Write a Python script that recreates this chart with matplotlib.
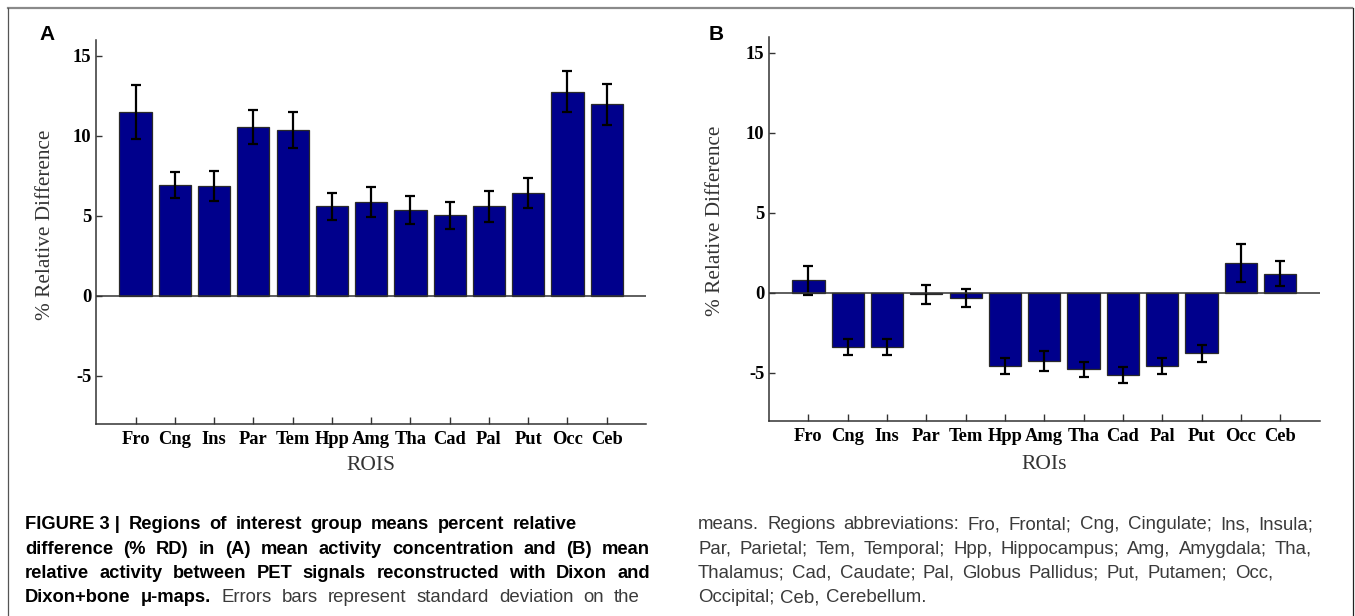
import matplotlib
matplotlib.use("Agg")
import matplotlib.pyplot as plt
from matplotlib.lines import Line2D
import numpy as np

# ---------------- data ----------------
rois = ["Fro", "Cng", "Ins", "Par", "Tem", "Hpp", "Amg", "Tha", "Cad", "Pal", "Put", "Occ", "Ceb"]
mean_a = [11.5, 6.92, 6.87, 10.57, 10.37, 5.6, 5.87, 5.38, 5.04, 5.6, 6.45, 12.77, 11.98]
sd_a = [1.7, 0.82, 0.95, 1.07, 1.13, 0.86, 0.92, 0.86, 0.86, 0.95, 0.93, 1.3, 1.27]
mean_b = [0.78, -3.4, -3.4, -0.1, -0.31, -4.58, -4.29, -4.77, -5.15, -4.58, -3.79, 1.88, 1.19]
sd_b = [0.9, 0.52, 0.5, 0.6, 0.57, 0.53, 0.62, 0.47, 0.52, 0.53, 0.55, 1.19, 0.79]
yticks = [-5, 0, 5, 10, 15]
ylim = (-8, 16)

caption_left = [
    [("FIGURE 3 |", "bold"), ("Regions", "bold"), ("of", "bold"), ("interest", "bold"), ("group", "bold"),
     ("means", "bold"), ("percent", "bold"), ("relative", "bold")],
    [("difference", "bold"), ("(%", "bold"), ("RD)", "bold"), ("in", "bold"), ("(A)", "bold"), ("mean", "bold"),
     ("activity", "bold"), ("concentration", "bold"), ("and", "bold"), ("(B)", "bold"), ("mean", "bold")],
    [("relative", "bold"), ("activity", "bold"), ("between", "bold"), ("PET", "bold"), ("signals", "bold"),
     ("reconstructed", "bold"), ("with", "bold"), ("Dixon", "bold"), ("and", "bold")],
    [("Dixon+bone", "bold"), ("\u03bc-maps.", "bold"), ("Errors", "normal"), ("bars", "normal"),
     ("represent", "normal"), ("standard", "normal"), ("deviation", "normal"), ("on", "normal"), ("the", "normal")],
]
caption_right = [
    "means. Regions abbreviations: Fro, Frontal; Cng, Cingulate; Ins, Insula;",
    "Par, Parietal; Tem, Temporal; Hpp, Hippocampus; Amg, Amygdala; Tha,",
    "Thalamus; Cad, Caudate; Pal, Globus Pallidus; Put, Putamen; Occ,",
    "Occipital; Ceb, Cerebellum.",
]

W, H = 1355, 616
fig = plt.figure(figsize=(W / 100, H / 100), dpi=100)

serif = "Liberation Serif"
bar_color = "#00008c"
axis_color = "#333333"


def make_panel(rect, means, sds, xlabel, label_x, label_y, xlab_y):
    ax = fig.add_axes(rect)
    x = np.arange(1, len(rois) + 1)
    ax.bar(x, means, width=0.82, color=bar_color, edgecolor="#2a2a2a", linewidth=0.9, zorder=2)
    ax.errorbar(x, means, yerr=sds, fmt="none", ecolor="black", elinewidth=1.6,
                capsize=3.6, capthick=1.6, zorder=3)
    ax.axhline(0, color=axis_color, lw=1.1, zorder=4)
    ax.set_xlim(0, 14)
    ax.set_ylim(*ylim)
    ax.set_xticks(x)
    ax.set_xticklabels(rois, fontfamily=serif, fontweight="bold", fontsize=13.3)
    ax.set_yticks(yticks)
    ax.set_yticklabels([str(v) for v in yticks], fontfamily=serif, fontweight="bold", fontsize=13.3)
    ax.tick_params(axis="x", direction="in", length=5, width=1.0, color=axis_color, pad=5)
    ax.tick_params(axis="y", direction="in", length=4, width=1.0, color=axis_color, pad=3.5)
    for s in ("top", "right"):
        ax.spines[s].set_visible(False)
    for s in ("left", "bottom"):
        ax.spines[s].set_color(axis_color)
        ax.spines[s].set_linewidth(1.1)
    ax.set_ylabel("% Relative Difference", fontfamily=serif, fontsize=15.3, color="#333333", va="center")
    ax.yaxis.set_label_coords(label_x, label_y)
    ax.set_xlabel(xlabel, fontfamily=serif, fontsize=15.5, color="#333333", va="center")
    ax.xaxis.set_label_coords(0.5, xlab_y)
    return ax


axA = make_panel([96.3 / W, 1 - 424 / H, 549.7 / W, 384 / H], mean_a, sd_a, "ROIS", -0.093, 0.518, -0.107)
axB = make_panel([769.1 / W, 1 - 420.7 / H, 550.4 / W, 384 / H], mean_b, sd_b, "ROIs", -0.098, 0.52, -0.115)

fig.text(47.5 / W, 1 - 34 / H, "A", fontfamily="Liberation Sans", fontweight="bold", fontsize=15,
         ha="center", va="center")
fig.text(716 / W, 1 - 34 / H, "B", fontfamily="Liberation Sans", fontweight="bold", fontsize=15,
         ha="center", va="center")

# frame around figure
fig.add_artist(Line2D([8 / W, 1352 / W], [1 - 8 / H, 1 - 8 / H], transform=fig.transFigure,
                      color="#8a8a8a", lw=1.6))
fig.add_artist(Line2D([8 / W, 8 / W], [1 - 8 / H, 0], transform=fig.transFigure, color="#555555", lw=0.9))
fig.add_artist(Line2D([1352.5 / W, 1352.5 / W], [1 - 8 / H, 0], transform=fig.transFigure,
                      color="#222222", lw=0.9))

# caption with justified lines
renderer = fig.canvas.get_renderer()
sans = "Liberation Sans"
text_colors = {"bold": "black", "normal": "#3a3a3a"}
text_sizes = {"bold": 13.2, "normal": 13.4}


def place_line(tokens, x0, x1, y_base, justify=True, space_factor=1.15):
    texts = []
    widths = []
    for word, weight in tokens:
        t = fig.text(0, 1 - y_base / H, word, fontfamily=sans, fontweight=weight, fontsize=text_sizes[weight],
                     color=text_colors[weight], ha="left", va="baseline")
        texts.append(t)
        widths.append(t.get_window_extent(renderer).width)
    total = sum(widths)
    if justify and len(tokens) > 1:
        gap = (x1 - x0 - total) / (len(tokens) - 1)
    else:
        gap = 0.278 * text_sizes["normal"] * 100 / 72 * space_factor
    x = x0
    for t, w in zip(texts, widths):
        t.set_x(x / W)
        x += w + gap


baselines = [529, 553.5, 578, 602.5]
left_ends = [577, 650, 650, 640]
for toks, yb, xe in zip(caption_left, baselines, left_ends):
    place_line(toks, 25, xe, yb, justify=True)

right_ends = [1313, 1312, 1273, None]
for line, yb, xe in zip(caption_right, baselines, right_ends):
    toks = [(w, "normal") for w in line.split(" ")]
    if xe is None:
        place_line(toks, 698, 0, yb, justify=False)
    else:
        place_line(toks, 698, xe, yb, justify=True)

fig.savefig("out.png", dpi=100)
